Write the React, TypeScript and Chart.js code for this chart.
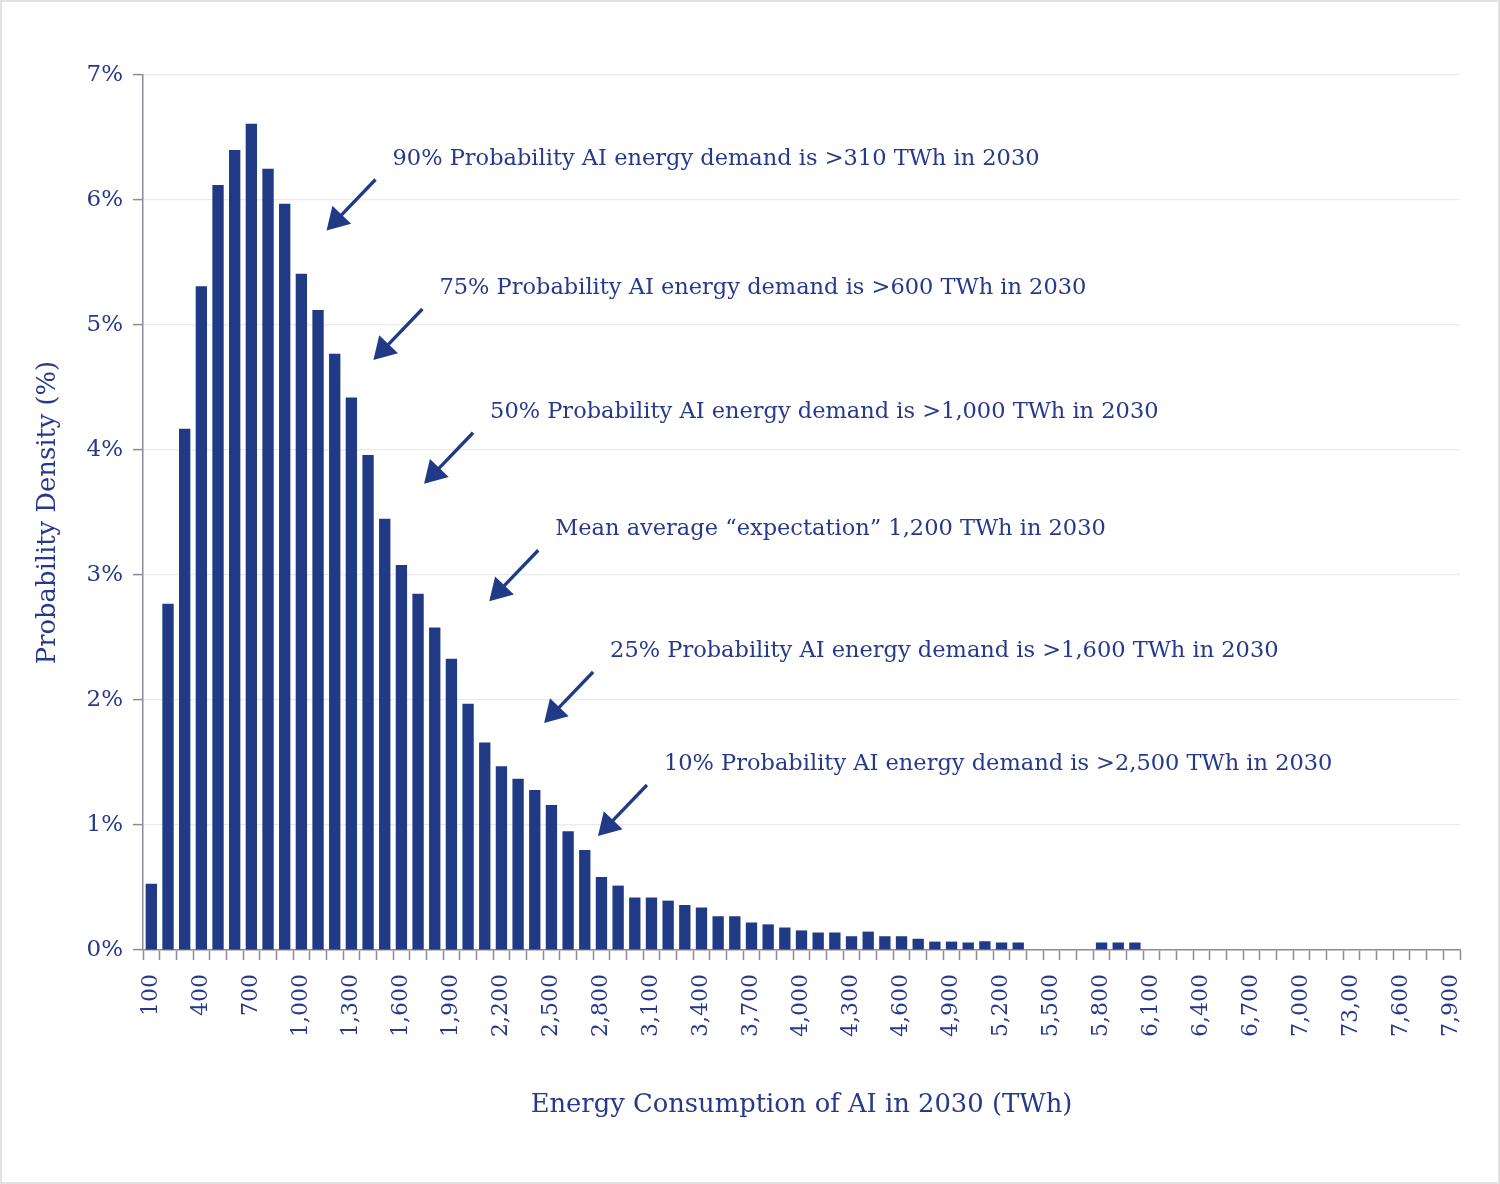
import React, { useEffect, useRef } from 'react';
import { Chart, registerables } from 'chart.js';

Chart.register(...registerables);

// ---- data ----
const categories = [
  100, 200, 300, 400, 500, 600, 700, 800, 900, 1000,
  1100, 1200, 1300, 1400, 1500, 1600, 1700, 1800, 1900, 2000,
  2100, 2200, 2300, 2400, 2500, 2600, 2700, 2800, 2900, 3000,
  3100, 3200, 3300, 3400, 3500, 3600, 3700, 3800, 3900, 4000,
  4100, 4200, 4300, 4400, 4500, 4600, 4700, 4800, 4900, 5000,
  5100, 5200, 5300, 5400, 5500, 5600, 5700, 5800, 5900, 6000,
  6100, 6200, 6300, 6400, 6500, 6600, 6700, 6800, 6900, 7000,
  7100, 7200, 7300, 7400, 7500, 7600, 7700, 7800, 7900,
];

const densityPct = [
  0.53, 2.77, 4.17, 5.31, 6.12, 6.40, 6.61, 6.25, 5.97, 5.41,
  5.12, 4.77, 4.42, 3.96, 3.45, 3.08, 2.85, 2.58, 2.33, 1.97,
  1.66, 1.47, 1.37, 1.28, 1.16, 0.95, 0.80, 0.585, 0.515, 0.42,
  0.42, 0.395, 0.36, 0.34, 0.27, 0.27, 0.22, 0.205, 0.18, 0.157,
  0.14, 0.14, 0.11, 0.147, 0.11, 0.11, 0.09, 0.067, 0.067, 0.06,
  0.07, 0.06, 0.06, 0, 0, 0, 0, 0.06, 0.06, 0.06,
  0, 0, 0, 0, 0, 0, 0, 0, 0, 0,
  0, 0, 0, 0, 0, 0, 0, 0, 0,
];

// shown every third category (as printed in the source, incl. "73,00")
const tickLabels = [
  '100', '400', '700', '1,000', '1,300', '1,600', '1,900', '2,200', '2,500',
  '2,800', '3,100', '3,400', '3,700', '4,000', '4,300', '4,600', '4,900', '5,200',
  '5,500', '5,800', '6,100', '6,400', '6,700', '7,000', '73,00', '7,600', '7,900',
];

const annotationTexts = [
  '90% Probability AI energy demand is >310 TWh in 2030',
  '75% Probability AI energy demand is >600 TWh in 2030',
  '50% Probability AI energy demand is >1,000 TWh in 2030',
  'Mean average \u201Cexpectation\u201D 1,200 TWh in 2030',
  '25% Probability AI energy demand is >1,600 TWh in 2030',
  '10% Probability AI energy demand is >2,500 TWh in 2030',
];
// arrow tip position in data units (TWh on x, % on y)
const annotationTipTWh = [1151, 1432, 1736, 2127, 2456, 2779];
const annotationTipPct = [5.756, 4.72, 3.73, 2.79, 1.816, 0.912];

// ---- styles ----
const TEXT = '#27398c';
const BAR = '#213a86';
const AXIS = '#8b8b99';
const GRID = '#e9e9ee';
const FONT = '"DejaVu Serif", serif';

export default function App() {
  const ref = useRef<HTMLCanvasElement>(null);

  useEffect(() => {
    const canvas = ref.current;
    if (!canvas) return;

    const annotationPlugin = {
      id: 'arrowAnnotations',
      beforeDraw(chart: any) {
        const { ctx, width, height } = chart;
        ctx.save();
        ctx.fillStyle = '#ffffff';
        ctx.fillRect(0, 0, width, height);
        ctx.restore();
      },
      afterDraw(chart: any) {
        const { ctx, width, height } = chart;
        const xs = chart.scales.x;
        const ys = chart.scales.y;
        const step = categories[1] - categories[0];
        ctx.save();
        annotationTexts.forEach((text, i) => {
          const idx = (annotationTipTWh[i] - categories[0]) / step;
          const tipX = xs.getPixelForValue(idx);
          const tipY = ys.getPixelForValue(annotationTipPct[i]);
          const tailX = tipX + 49;
          const tailY = tipY - 51;
          const dx = tailX - tipX;
          const dy = tailY - tipY;
          const len = Math.hypot(dx, dy);
          const ux = dx / len;
          const uy = dy / len;
          const headLen = 22;
          const headHalf = 13;
          const bx = tipX + ux * headLen;
          const by = tipY + uy * headLen;
          ctx.strokeStyle = BAR;
          ctx.fillStyle = BAR;
          ctx.lineWidth = 3.3;
          ctx.lineCap = 'butt';
          ctx.beginPath();
          ctx.moveTo(tailX, tailY);
          ctx.lineTo(bx - ux * 2, by - uy * 2);
          ctx.stroke();
          ctx.beginPath();
          ctx.moveTo(tipX, tipY);
          ctx.lineTo(bx - uy * headHalf, by + ux * headHalf);
          ctx.lineTo(bx + uy * headHalf, by - ux * headHalf);
          ctx.closePath();
          ctx.fill();

          ctx.fillStyle = TEXT;
          ctx.font = `22.5px ${FONT}`;
          ctx.textAlign = 'left';
          ctx.textBaseline = 'alphabetic';
          ctx.fillText(text, tailX + 17, tailY - 15);
        });
        // light frame around the picture
        ctx.strokeStyle = '#e2e2e2';
        ctx.lineWidth = 2;
        ctx.strokeRect(1, 1, width - 2, height - 2);
        ctx.restore();
      },
    };

    const chart = new Chart(canvas, {
      type: 'bar',
      data: {
        labels: categories.map((c) => c.toLocaleString('en-US')),
        datasets: [
          {
            label: 'Probability Density (%)',
            data: densityPct,
            backgroundColor: BAR,
            borderWidth: 0,
            barPercentage: 0.68,
            categoryPercentage: 1.0,
          },
        ],
      },
      options: {
        responsive: false,
        animation: false,
        devicePixelRatio: 1,
        layout: { padding: { left: 0, right: 40, top: 75, bottom: 0 } },
        plugins: {
          legend: { display: false },
          tooltip: { enabled: false },
        },
        scales: {
          x: {
            afterFit: (s: any) => {
              s.height = 234;
            },
            grid: {
              offset: true,
              drawOnChartArea: false,
              drawTicks: true,
              tickLength: 10,
              tickColor: AXIS,
              tickWidth: 1.5,
            },
            border: { color: AXIS, width: 1.5 },
            ticks: {
              autoSkip: false,
              minRotation: 90,
              maxRotation: 90,
              padding: 14,
              color: TEXT,
              font: { family: FONT, size: 22 },
              callback: (_v: any, idx: number) => (idx % 3 === 0 ? tickLabels[idx / 3] : ''),
            },
            title: {
              display: true,
              text: 'Energy Consumption of AI in 2030 (TWh)',
              color: TEXT,
              font: { family: FONT, size: 25.8, lineHeight: 1.2 },
              padding: { top: 0, bottom: 63 },
            },
          },
          y: {
            min: 0,
            max: 7,
            afterFit: (s: any) => {
              s.width = 143;
            },
            grid: {
              color: GRID,
              lineWidth: 1.2,
              drawTicks: true,
              tickLength: 10,
              tickColor: AXIS,
              tickWidth: 1.5,
            },
            border: { color: AXIS, width: 1.5 },
            ticks: {
              stepSize: 1,
              padding: 10,
              color: TEXT,
              font: { family: FONT, size: 23 },
              callback: (v: any) => `${v}%`,
            },
            title: {
              display: true,
              text: 'Probability Density (%)',
              color: TEXT,
              font: { family: FONT, size: 25.8, lineHeight: 1.2 },
              padding: { top: 33, bottom: 0 },
            },
          },
        },
      },
      plugins: [annotationPlugin],
    } as any);

    return () => chart.destroy();
  }, []);

  return (
    <div style={{ position: 'absolute', left: 0, top: 0, width: 1500, height: 1184, background: '#fff' }}>
      <canvas ref={ref} width={1500} height={1184} style={{ display: 'block', width: 1500, height: 1184 }} />
    </div>
  );
}
